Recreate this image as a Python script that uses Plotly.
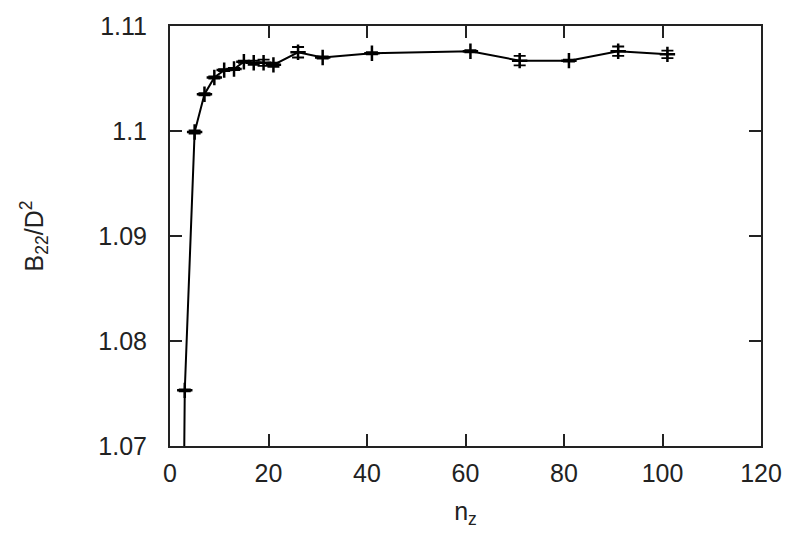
import plotly.graph_objects as go

nz = [1, 3, 5, 7, 9, 11, 13, 15, 17, 19, 21, 26, 31, 41, 61, 71, 81, 91, 101]
b22 = [0.97, 1.0753, 1.0999, 1.1035, 1.1051, 1.1058, 1.1059, 1.1066, 1.1065, 1.1065,
       1.1063, 1.1075, 1.1070, 1.1074, 1.1076, 1.1067, 1.1067, 1.1076, 1.1073]
err = [0.0, 0.0001, 0.00015, 0.0001, 0.0001, 0.0001, 0.0001, 0.0001, 0.0002, 0.0003,
       0.0002, 0.0005, 0.0001, 0.0001, 0.0001, 0.00045, 0.0001, 0.00045, 0.00035]

xticks = [0, 20, 40, 60, 80, 100, 120]
yticks = [1.07, 1.08, 1.09, 1.10, 1.11]
yticktext = ["1.07", "1.08", "1.09", "1.1", "1.11"]

FONT = "Liberation Sans, Arial, sans-serif"

fig = go.Figure()
fig.add_trace(go.Scatter(
    x=nz, y=b22, mode="lines+markers",
    line=dict(color="black", width=2),
    marker=dict(symbol="cross-thin", size=11, line=dict(color="black", width=2.5), color="black"),
    error_y=dict(type="data", array=err, visible=True, color="black", thickness=1.8, width=6),
    showlegend=False, cliponaxis=True,
))

axis_common = dict(
    showline=True, linecolor="#222", linewidth=2, mirror="ticks",
    ticks="inside", ticklen=12, tickwidth=2, tickcolor="#222",
    showgrid=False, zeroline=False,
    tickfont=dict(family=FONT, size=25, color="#222"),
)

fig.update_layout(
    width=800, height=546,
    margin=dict(l=170, r=39, t=22, b=100),
    paper_bgcolor="white", plot_bgcolor="white",
    xaxis=dict(range=[0, 120], tickvals=xticks, ticklabelstandoff=4,
               title=dict(text="n<sub>z</sub>", font=dict(family=FONT, size=25, color="#222"), standoff=16),
               **axis_common),
    yaxis=dict(range=[1.07, 1.11], tickvals=yticks, ticktext=yticktext, ticklabelstandoff=16,
               title=dict(text="B<sub>22</sub>/D<sup>2</sup>", font=dict(family=FONT, size=25, color="#222"), standoff=48),
               **axis_common),
)

fig.write_html("out.html", config={"displayModeBar": False},
               post_script="document.body.style.margin='0px';")
